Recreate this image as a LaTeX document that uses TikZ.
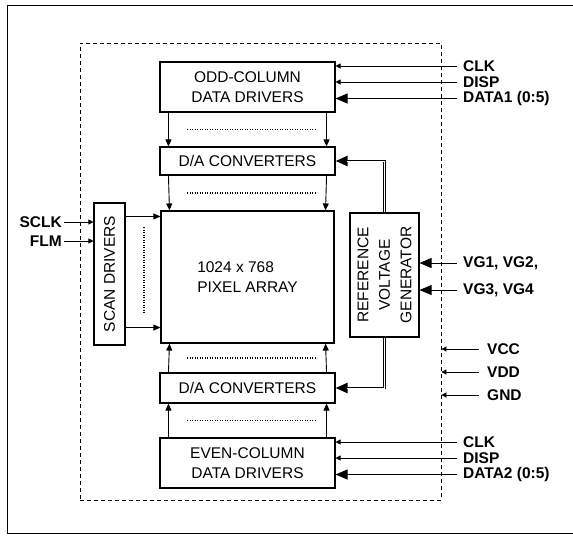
\documentclass[tikz,border=0pt]{standalone}
\usepackage{fontspec}
\setmainfont{Liberation Sans}
\setsansfont{Liberation Sans}
\usetikzlibrary{arrows.meta,positioning,calc}
\tikzset{
  blk/.style={draw, line width=1.1pt, inner sep=0pt, align=center,
    font=\fontsize{15.5}{20}\selectfont},
  blktxt/.style={inner sep=0pt, align=center, font=\fontsize{15.5}{21.5}\selectfont},
  chip/.style={draw, line width=0.8pt, dash pattern=on 4pt off 3pt},
  frame/.style={line width=1pt},
  sig/.style={inner ysep=0pt, inner xsep=6pt, font=\fontsize{15.5}{18}\selectfont\bfseries},
  flow/.style={-{Triangle[length=7pt,width=6pt]}, line width=0.9pt},
  wire/.style={-{Triangle[length=5pt,width=5pt]}, line width=0.8pt},
  bigflow/.style={-{Triangle[length=12pt,width=10pt]}, line width=1pt},
  bus/.style={bigflow, line width=2.4pt,
    postaction={draw=white, line width=0.8pt, -, shorten >=11pt}},
  dots/.style={line width=1.3pt, dash pattern=on 1.2pt off 1.3pt},
}
\begin{document}
\begin{tikzpicture}[x=1pt,y=-1pt]
  \useasboundingbox (0,0) rectangle (573,539);
  \draw[frame] (573,5) -- (7,5) -- (7,533) -- (573,533);
  \node[chip, minimum width=361pt, minimum height=457pt] (chip) at (260.5,271.5) {};

  % column path
  \node[blk, minimum width=175pt, minimum height=50pt] (odd) at (247.5,87) {ODD-COLUMN\\DATA DRIVERS};
  \node[blk, minimum width=175pt, minimum height=28pt] (datop) at (247.5,161) {D/A CONVERTERS};
  \node[blk, minimum width=173pt, minimum height=132pt, align=left] (pix) at (247.5,277) {1024 x 768\\PIXEL ARRAY};
  \node[blk, minimum width=175pt, minimum height=30pt] (dabot) at (247.5,388) {D/A CONVERTERS};
  \node[blk, minimum width=175pt, minimum height=50pt] (even) at (247.5,463) {EVEN-COLUMN\\DATA DRIVERS};
  \foreach \dx/\side in {9/west,-9/east} {
    \draw[flow] ([xshift=\dx]odd.south \side) -- ([xshift=\dx]datop.north \side);
    \draw[flow] ([xshift=\dx]datop.south \side) -- ([xshift=\dx]pix.north \side);
    \draw[flow] ([xshift=\dx]dabot.north \side) -- ([xshift=\dx]pix.south \side);
    \draw[flow] ([xshift=\dx]even.north \side) -- ([xshift=\dx]dabot.south \side);
  }
  \foreach \yy in {129.5,193,358,420.5} {\draw[dots] (187,\yy) -- (317,\yy);}

  % scan side
  \node[blk, minimum width=31pt, minimum height=142pt] (scan) at (109.5,274) {};
  \node[blktxt, rotate=90] (scantxt) at (scan) {SCAN DRIVERS};
  \coordinate (rowa) at ($(scan.north east)+(0,14)$);
  \coordinate (rowb) at ($(scan.south east)+(0,-18)$);
  \draw[flow] (rowa) -- (rowa -| pix.west);
  \draw[flow] (rowb) -- (rowb -| pix.west);
  \draw[dots] (144,227) -- (144,313);
  \node[sig, inner xsep=2pt, anchor=east] (sclk) at (64,222) {SCLK};
  \node[sig, inner xsep=2pt, anchor=east] (flm) at (64,241) {FLM};
  \draw[wire] (sclk) -- (sclk -| scan.west);
  \draw[wire] (flm) -- (flm -| scan.west);

  % reference generator
  \node[blk, minimum width=69pt, minimum height=124pt] (refgen) at (384.5,275) {};
  \node[blktxt, rotate=90] (reftxt) at (refgen) {REFERENCE\\VOLTAGE\\GENERATOR};
  \draw[bus] (refgen.north) |- (datop.east);
  \draw[bus] (refgen.south) |- (dabot.east);
  \node[sig, anchor=west] (vga) at (457,263) {VG1, VG2,};
  \node[sig, anchor=west] (vgb) at (457,290) {VG3, VG4};
  \draw[bigflow] (vga) -- (vga -| refgen.east);
  \draw[bigflow] (vgb) -- (vgb -| refgen.east);

  % data inputs
  \foreach \nm/\yy/\txt in {clka/66/CLK, dispa/82/DISP, clkb/442/CLK, dispb/458/DISP} {
    \node[sig, anchor=west] (\nm) at (457,\yy) {\txt};
  }
  \node[sig, anchor=west] (dataa) at (457,98.5) {DATA1 (0:5)};
  \node[sig, anchor=west] (datab) at (457,474.5) {DATA2 (0:5)};
  \draw[wire] (clka) -- (clka -| odd.east);
  \draw[wire] (dispa) -- (dispa -| odd.east);
  \draw[bigflow] (dataa) -- (dataa -| odd.east);
  \draw[wire] (clkb) -- (clkb -| even.east);
  \draw[wire] (dispb) -- (dispb -| even.east);
  \draw[bigflow] (datab) -- (datab -| even.east);

  % supplies
  \foreach \nm/\yy/\txt in {vcc/349/VCC, vdd/372/VDD, gnd/395/GND} {
    \node[sig, anchor=west, inner xsep=8pt] (\nm) at (479,\yy) {\txt};
    \draw[wire] (\nm) -- (\nm -| chip.east);
  }
\end{tikzpicture}
\end{document}
